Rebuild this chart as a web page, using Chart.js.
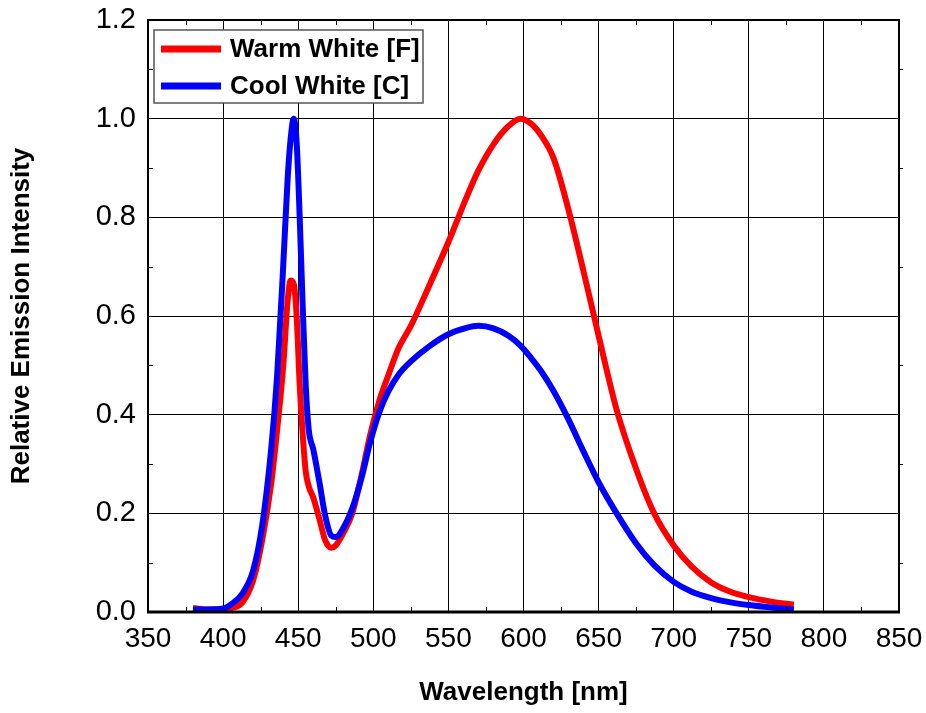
<!DOCTYPE html>
<html>
<head>
<meta charset="utf-8">
<script src="https://cdn.jsdelivr.net/npm/chart.js@4.4.1/dist/chart.umd.min.js"></script>
<style>
  body { margin: 0; background: #fff; }
  #wrap { width: 926px; height: 713px; }
</style>
</head>
<body>
<div id="wrap"><canvas id="myChart" width="926" height="713"></canvas></div>
<script>
var wavelength = [380, 390, 400, 406, 413, 420, 426, 432, 436, 440, 443, 445, 447, 449, 451, 453, 455, 457, 460, 464, 468, 472, 475, 480, 486, 492, 498, 504, 510, 517, 525, 537, 550, 562, 570, 580, 590, 598, 605, 612, 620, 630, 640, 650, 662, 675, 687, 700, 712, 725, 737, 750, 765, 780];

var warmWhite = [0.008, 0.005, 0.005, 0.008, 0.02, 0.064, 0.145, 0.26, 0.37, 0.497, 0.632, 0.672, 0.665, 0.598, 0.46, 0.36, 0.285, 0.255, 0.232, 0.19, 0.145, 0.13, 0.135, 0.16, 0.2, 0.275, 0.36, 0.428, 0.48, 0.536, 0.58, 0.66, 0.75, 0.84, 0.895, 0.948, 0.985, 1.0, 0.99, 0.965, 0.92, 0.815, 0.69, 0.56, 0.41, 0.29, 0.2, 0.135, 0.092, 0.06, 0.042, 0.03, 0.021, 0.015];

var coolWhite = [0.005, 0.005, 0.007, 0.017, 0.038, 0.084, 0.175, 0.33, 0.48, 0.7, 0.88, 0.96, 1.0, 0.95, 0.8, 0.62, 0.46, 0.37, 0.33, 0.265, 0.195, 0.155, 0.152, 0.17, 0.21, 0.27, 0.345, 0.405, 0.447, 0.482, 0.508, 0.538, 0.563, 0.576, 0.58, 0.575, 0.56, 0.54, 0.515, 0.487, 0.448, 0.39, 0.325, 0.263, 0.2, 0.139, 0.095, 0.061, 0.041, 0.028, 0.02, 0.014, 0.009, 0.005];

var seriesNames = ["Warm White [F]", "Cool White [C]"];
var seriesColors = ["#ff0000", "#0000ff"];

var xTitle = "Wavelength [nm]";
var yTitle = "Relative Emission Intensity";

function toPoints(vals) {
  var pts = [];
  for (var i = 0; i < wavelength.length; i++) {
    pts.push({ x: wavelength[i], y: vals[i] });
  }
  return pts;
}

var fontName = "'Liberation Sans', Arial, sans-serif";

// frame, inward minor ticks and the boxed legend
var framePlugin = {
  id: "frame",
  afterDatasetsDraw: function (chart) {
    var ctx = chart.ctx;
    var a = chart.chartArea;
    var xs = chart.scales.x;
    var ys = chart.scales.y;
    ctx.save();

    ctx.strokeStyle = "#000";
    ctx.lineWidth = 1;
    ctx.beginPath();
    for (var v = 375; v < 850; v += 50) {
      var px = Math.round(xs.getPixelForValue(v)) + 0.5;
      ctx.moveTo(px, a.bottom);
      ctx.lineTo(px, a.bottom - 5);
      ctx.moveTo(px, a.top);
      ctx.lineTo(px, a.top + 5);
    }
    for (var w = 0.1; w < 1.2; w += 0.2) {
      var py = Math.round(ys.getPixelForValue(w)) + 0.5;
      ctx.moveTo(a.left, py);
      ctx.lineTo(a.left + 5, py);
      ctx.moveTo(a.right, py);
      ctx.lineTo(a.right + 4, py);
    }
    ctx.stroke();

    ctx.lineWidth = 2;
    ctx.strokeRect(a.left, a.top, a.right - a.left, a.bottom - a.top);
    ctx.lineWidth = 3;
    ctx.beginPath();
    ctx.moveTo(a.left - 1, a.bottom);
    ctx.lineTo(a.right + 1, a.bottom);
    ctx.stroke();

    var bx = a.left + 6, by = a.top + 10, bw = 269, bh = 73;
    ctx.fillStyle = "#fff";
    ctx.fillRect(bx, by, bw, bh);
    ctx.strokeStyle = "#555";
    ctx.lineWidth = 1.5;
    ctx.strokeRect(bx, by, bw, bh);

    ctx.font = "bold 26px " + fontName;
    ctx.textBaseline = "middle";
    ctx.textAlign = "left";
    for (var i = 0; i < chart.data.datasets.length; i++) {
      var ds = chart.data.datasets[i];
      var ly = by + 19 + i * 37;
      ctx.strokeStyle = ds.borderColor;
      ctx.lineWidth = 7;
      ctx.beginPath();
      ctx.moveTo(bx + 7, ly);
      ctx.lineTo(bx + 67, ly);
      ctx.stroke();
      ctx.fillStyle = "#000";
      ctx.fillText(ds.label, bx + 76, ly + 1);
    }
    ctx.restore();
  }
};

var ctx = document.getElementById("myChart").getContext("2d");
var myChart = new Chart(ctx, {
  type: "line",
  data: {
    datasets: [
      {
        label: seriesNames[0],
        data: toPoints(warmWhite),
        borderColor: seriesColors[0],
        borderWidth: 6,
        pointRadius: 0,
        cubicInterpolationMode: "monotone",
        fill: false,
        order: 1,
      },
      {
        label: seriesNames[1],
        data: toPoints(coolWhite),
        borderColor: seriesColors[1],
        borderWidth: 6,
        pointRadius: 0,
        cubicInterpolationMode: "monotone",
        fill: false,
        order: 0,
      },
    ],
  },
  options: {
    responsive: false,
    animation: false,
    devicePixelRatio: 1,
    layout: { padding: { top: 20, right: 27, bottom: 0, left: 0 } },
    plugins: {
      legend: { display: false },
      tooltip: { enabled: false },
    },
    scales: {
      x: {
        type: "linear",
        min: 350,
        max: 850,
        afterFit: function (scale) {
          scale.height = 101;
          scale.paddingLeft = 0;
          scale.paddingRight = 0;
        },
        ticks: {
          stepSize: 50,
          padding: 10,
          color: "#000",
          font: { family: fontName, size: 28 },
        },
        grid: { color: "#000", lineWidth: 1, drawTicks: false },
        border: { display: false },
        title: {
          display: true,
          text: xTitle,
          color: "#000",
          font: { family: fontName, size: 26, weight: "bold" },
          padding: { top: 0, bottom: 5 },
        },
      },
      y: {
        min: 0,
        max: 1.2,
        afterFit: function (scale) {
          scale.width = 148;
          scale.paddingTop = 0;
          scale.paddingBottom = 0;
        },
        ticks: {
          stepSize: 0.2,
          padding: 12,
          color: "#000",
          font: { family: fontName, size: 29 },
          callback: function (v) { return Number(v).toFixed(1); },
        },
        grid: { color: "#000", lineWidth: 1, drawTicks: false },
        border: { display: false },
        title: {
          display: true,
          text: yTitle,
          color: "#000",
          font: { family: fontName, size: 26, weight: "bold" },
          padding: { top: 6, bottom: 0 },
        },
      },
    },
  },
  plugins: [framePlugin],
});
</script>
</body>
</html>
